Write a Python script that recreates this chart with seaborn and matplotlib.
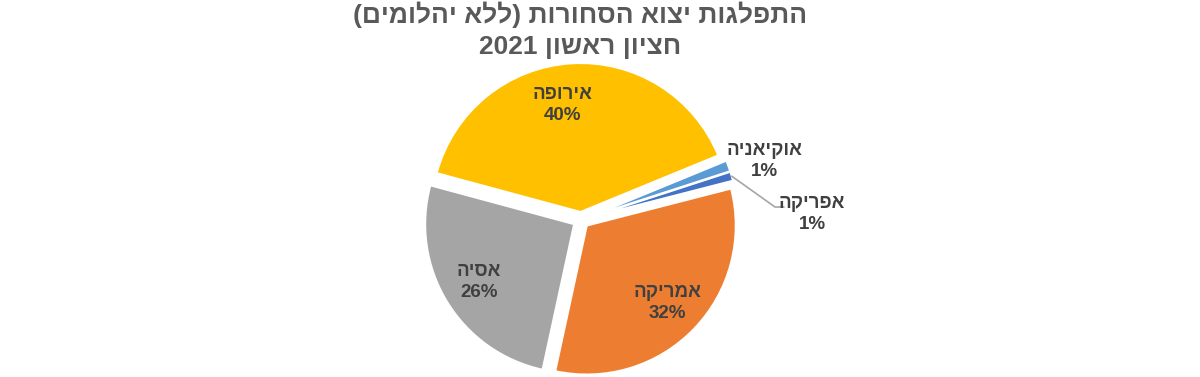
import re
import matplotlib
matplotlib.use("Agg")
import matplotlib.pyplot as plt
import numpy as np
import seaborn as sns

sns.set_theme(style="white")
plt.rcParams['font.family'] = ['Liberation Sans', 'DejaVu Sans']


def rtl(s):
    # matplotlib has no bidi: reverse into visual order, mirror brackets,
    # keep digit runs left-to-right
    out = s[::-1].translate(str.maketrans("()", ")("))
    return re.sub(r"[0-9%]+", lambda m: m.group(0)[::-1], out)


# data (first half 2021, export of goods without diamonds)
regions = ["אפריקה", "אמריקה", "אסיה", "אירופה", "אוקיאניה"]
shares = [1.0, 32.4, 25.8, 39.6, 1.2]
pct_labels = ["1%", "32%", "26%", "40%", "1%"]
colors = ["#4472C4", "#ED7D31", "#A5A5A5", "#FFC000", "#5B9BD5"]

title1 = "התפלגות יצוא הסחורות (ללא יהלומים)"
title2 = "חציון ראשון 2021"

W, H = 1200, 377
fig = plt.figure(figsize=(W / 100, H / 100), dpi=100)
ax = fig.add_axes([0, 0, 1, 1])

cx, cy, R = 581, H - 220, 149
wedges, _ = ax.pie(shares, colors=colors, startangle=18.0, counterclock=False,
                   explode=[8] * len(shares), radius=R, center=(cx, cy),
                   wedgeprops=dict(edgecolor="white", linewidth=1.5),
                   frame=True)
ax.set_xlim(0, W)
ax.set_ylim(0, H)
ax.set_aspect("equal")
ax.axis("off")

lab_color = "#404040"
fs = 13.5
ls = 1.3
for i, w in enumerate(wedges):
    if i not in (1, 2, 3):
        continue
    txt = rtl(regions[i]) + "\n" + pct_labels[i]
    ang = np.deg2rad((w.theta1 + w.theta2) / 2)
    d = 0.75
    if i == 3:
        ang += np.deg2rad(6)
        d = 0.73
    ox, oy = w.center
    x = ox + d * R * np.cos(ang)
    y = oy + d * R * np.sin(ang)
    ax.text(x, y, txt, ha="center", va="center", fontsize=fs,
            fontweight="bold", color=lab_color, linespacing=ls)

# small slices: labels outside
ax.text(764, H - 161, rtl(regions[4]) + "\n" + pct_labels[4], ha="center",
        va="center", fontsize=fs, fontweight="bold", color=lab_color,
        linespacing=ls)
ax.text(812, H - 214, rtl(regions[0]) + "\n" + pct_labels[0], ha="center",
        va="center", fontsize=fs, fontweight="bold", color=lab_color,
        linespacing=ls)
wa = wedges[0]
ang = np.deg2rad((wa.theta1 + wa.theta2) / 2)
ox, oy = wa.center
tipx = ox + R * np.cos(ang)
tipy = oy + R * np.sin(ang)
ax.plot([tipx, 775, 784], [tipy, H - 207, H - 207], color="#A6A6A6", lw=1.2)

fig.text(580 / W, 1 - 15 / H, rtl(title1), ha="center", va="center",
         fontsize=19, fontweight="bold", color="#595959")
fig.text(580 / W, 1 - 47 / H, rtl(title2), ha="center", va="center",
         fontsize=19, fontweight="bold", color="#595959")

fig.savefig("out.png", dpi=100, facecolor="white")
